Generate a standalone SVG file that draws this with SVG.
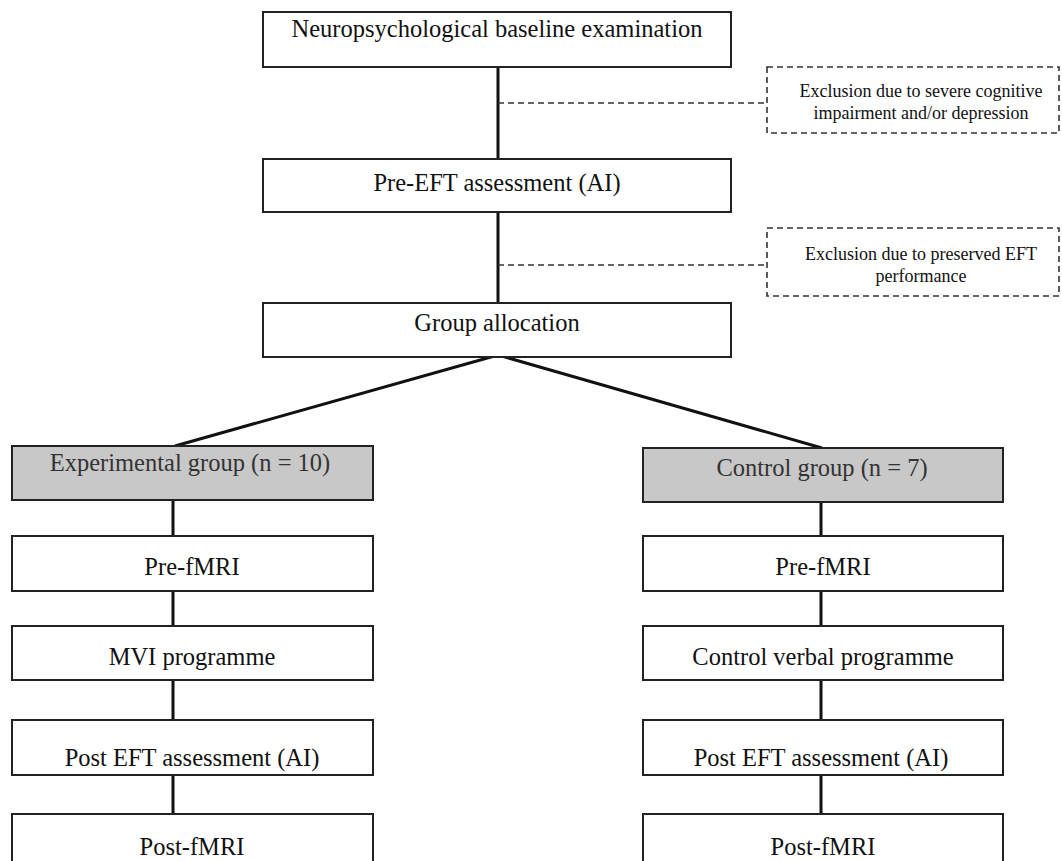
<svg xmlns="http://www.w3.org/2000/svg" width="1062" height="861" viewBox="0 0 1062 861">
<style>
  .box { fill: #ffffff; stroke: #222222; stroke-width: 2; }
  .grey { fill: #c8c8c8; stroke: #222222; stroke-width: 2; }
  .dbox { fill: none; stroke: #333333; stroke-width: 1.6; stroke-dasharray: 6 4; }
  .t { font-family: "Liberation Serif", "Times New Roman", serif; font-size: 24.5px; fill: #111111; text-anchor: middle; }
  .tg { font-family: "Liberation Serif", "Times New Roman", serif; font-size: 24.5px; fill: #333333; text-anchor: middle; }
  .ts { font-family: "Liberation Serif", "Times New Roman", serif; font-size: 18px; fill: #111111; text-anchor: middle; }
  .c { stroke: #111111; stroke-width: 3; fill: none; }
  .cd { stroke: #333333; stroke-width: 1.6; stroke-dasharray: 6 4; fill: none; }
</style>
<rect width="1062" height="861" fill="#ffffff"/>
<g id="connectors">
  <line class="c" x1="498" y1="67" x2="498" y2="159"/>
  <line class="c" x1="498" y1="212" x2="498" y2="303"/>
  <line class="cd" x1="498" y1="103" x2="767" y2="103"/>
  <line class="cd" x1="498" y1="265" x2="767" y2="265"/>
  <line class="c" x1="498" y1="355" x2="175" y2="446"/>
  <line class="c" x1="498" y1="355" x2="822" y2="448"/>
  <line class="c" x1="173" y1="500" x2="173" y2="536"/>
  <line class="c" x1="173" y1="591" x2="173" y2="626"/>
  <line class="c" x1="173" y1="680" x2="173" y2="720"/>
  <line class="c" x1="173" y1="770" x2="173" y2="814"/>
  <line class="c" x1="821" y1="502" x2="821" y2="536"/>
  <line class="c" x1="821" y1="591" x2="821" y2="626"/>
  <line class="c" x1="821" y1="680" x2="821" y2="720"/>
  <line class="c" x1="821" y1="770" x2="821" y2="814"/>
</g>
<g id="baseline">
  <rect class="box" x="263" y="12" width="468" height="55"/>
  <text class="t" x="497" y="37">Neuropsychological baseline examination</text>
</g>
<g id="exclusion1">
  <rect class="dbox" x="767" y="67" width="292" height="66"/>
  <text class="ts" x="921" y="97">Exclusion due to severe cognitive</text>
  <text class="ts" x="921" y="119">impairment and/or depression</text>
</g>
<g id="preeft">
  <rect class="box" x="263" y="159" width="468" height="53"/>
  <text class="t" x="497" y="191">Pre-EFT assessment (AI)</text>
</g>
<g id="exclusion2">
  <rect class="dbox" x="767" y="228" width="292" height="68"/>
  <text class="ts" x="921" y="260">Exclusion due to preserved  EFT</text>
  <text class="ts" x="921" y="282">performance</text>
</g>
<g id="allocation">
  <rect class="box" x="263" y="303" width="468" height="54"/>
  <text class="t" x="497" y="331">Group allocation</text>
</g>
<g id="experimental">
  <rect class="grey" x="12" y="446" width="361" height="54"/>
  <text class="tg" x="190" y="471">Experimental group (n = 10)</text>
</g>
<g id="control">
  <rect class="grey" x="643" y="448" width="360" height="54"/>
  <text class="tg" x="822" y="476">Control group (n = 7)</text>
</g>
<g id="exp-prefmri">
  <rect class="box" x="12" y="536" width="361" height="55"/>
  <text class="t" x="192" y="575">Pre-fMRI</text>
</g>
<g id="exp-mvi">
  <rect class="box" x="12" y="626" width="361" height="54"/>
  <text class="t" x="192" y="665">MVI programme</text>
</g>
<g id="exp-posteft">
  <rect class="box" x="12" y="720" width="361" height="55"/>
  <text class="t" x="192" y="766">Post EFT assessment (AI)</text>
</g>
<g id="exp-postfmri">
  <rect class="box" x="12" y="814" width="361" height="56"/>
  <text class="t" x="192" y="855">Post-fMRI</text>
</g>
<g id="ctl-prefmri">
  <rect class="box" x="643" y="536" width="360" height="55"/>
  <text class="t" x="823" y="575">Pre-fMRI</text>
</g>
<g id="ctl-verbal">
  <rect class="box" x="643" y="626" width="360" height="54"/>
  <text class="t" x="823" y="665">Control verbal programme</text>
</g>
<g id="ctl-posteft">
  <rect class="box" x="643" y="720" width="360" height="55"/>
  <text class="t" x="821" y="766">Post EFT assessment (AI)</text>
</g>
<g id="ctl-postfmri">
  <rect class="box" x="643" y="814" width="360" height="56"/>
  <text class="t" x="823" y="855">Post-fMRI</text>
</g>
</svg>
